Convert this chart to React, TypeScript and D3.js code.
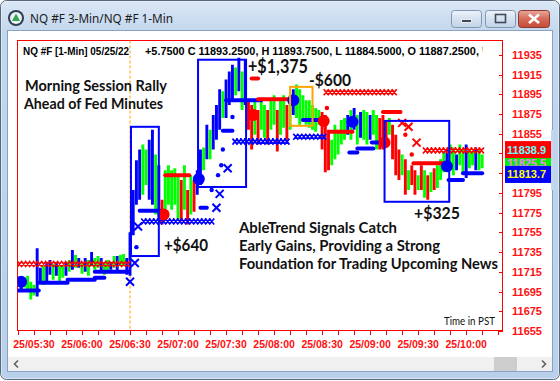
import React from "react";
import * as d3 from "d3";

const WIDTH = 560;
const HEIGHT = 381;

// Time axis: minutes after 25/05 05:30 (PST)
const xLabelMinutes = [0, 30, 60, 90, 120, 150, 180, 210, 240, 270];
const xLabels = ["25/05:30", "25/06:00", "25/06:30", "25/07:00", "25/07:30", "25/08:00", "25/08:30", "25/09:00", "25/09:30", "25/10:00"];
const xTickMinutes = [-10, 0, 10, 20, 30, 40, 50, 60, 70, 80, 90, 100, 110, 120, 130, 140, 150, 160, 170, 180, 190, 200, 210, 220, 230, 240, 250, 260, 270, 280, 290];
const yTicks = [11655, 11675, 11695, 11715, 11735, 11755, 11775, 11795, 11815, 11835, 11855, 11875, 11895, 11915, 11935];
// tick labels hidden behind the last-value boxes
const yHiddenLabels = [11815, 11835];

// Price bars (2-minute sampling from -8 min)
const barStart = -8;
const barStep = 2;
const barHigh = [
  11709, 11707, 11711, 11705, 11702, 11739, 11719, 11721, 11725, 11727,
  11723, 11725, 11722, 11721, 11725, 11727, 11737, 11732, 11729, 11725,
  11729, 11727, 11735, 11729, 11731, 11729, 11725, 11727, 11725, 11731,
  11731, 11732, 11733, 11729, 11755, 11798, 11828, 11839, 11844, 11839,
  11849, 11859, 11834, 11823, 11788, 11818, 11823, 11818, 11820, 11813,
  11808, 11823, 11798, 11813, 11808, 11818, 11839, 11841, 11864, 11859,
  11874, 11884, 11900, 11898, 11910, 11918, 11925, 11922, 11932, 11918,
  11930, 11889, 11884, 11889, 11879, 11889, 11884, 11879, 11889, 11894,
  11879, 11889, 11894, 11884, 11894, 11900, 11905, 11900, 11894, 11889,
  11889, 11884, 11881, 11879, 11877, 11874, 11859, 11849, 11864, 11859,
  11869, 11871, 11874, 11879, 11881, 11874, 11877, 11879, 11877, 11874,
  11879, 11874, 11871, 11874, 11869, 11871, 11864, 11854, 11839, 11834,
  11829, 11818, 11823, 11818, 11813, 11823, 11818, 11813, 11816, 11820,
  11823, 11829, 11837, 11839, 11844, 11841, 11834, 11844, 11839, 11844,
  11839, 11837, 11841, 11839, 11834
];
const barLow = [
  11697, 11699, 11695, 11687, 11691, 11690, 11705, 11702, 11705, 11712,
  11707, 11711, 11705, 11709, 11711, 11715, 11717, 11719, 11719, 11713,
  11715, 11711, 11721, 11717, 11719, 11715, 11712, 11715, 11717, 11719,
  11715, 11721, 11721, 11712, 11711, 11752, 11783, 11788, 11793, 11803,
  11788, 11783, 11773, 11770, 11763, 11773, 11783, 11778, 11783, 11768,
  11766, 11778, 11763, 11773, 11776, 11793, 11803, 11818, 11829, 11829,
  11839, 11849, 11859, 11871, 11871, 11884, 11889, 11894, 11898, 11879,
  11884, 11859, 11839, 11854, 11844, 11859, 11851, 11844, 11859, 11864,
  11837, 11854, 11861, 11849, 11859, 11874, 11871, 11864, 11869, 11864,
  11861, 11859, 11857, 11864, 11839, 11816, 11818, 11823, 11829, 11834,
  11844, 11849, 11854, 11849, 11859, 11844, 11851, 11849, 11844, 11849,
  11854, 11839, 11839, 11839, 11844, 11854, 11829, 11813, 11808, 11813,
  11793, 11798, 11803, 11793, 11798, 11798, 11790, 11788, 11796, 11798,
  11800, 11808, 11816, 11818, 11820, 11813, 11818, 11823, 11816, 11810,
  11820, 11823, 11818, 11818, 11820
];
const barColor = (
  "bggggbbgbb" + "gbggbgbgbg" + "bgbggbggbg" + "bggbbbbbgg" + "bbgbrggggg" +
  "rgrgrbbgbg" + "bbbgbbbgbg" + "brrgrggrgg" + "rggrgbgggg" + "ggggrrrggg" +
  "ggbgbgbggb" + "ggrrrgrrrg" + "rgrrgrgrgr" + "gggbggbggb" + "ggbgg"
).split("");

// Stop rows drawn with X markers
const xRowStart = [-10.5, 67, 124, 162, 181, 243];
const xRowEnd = [60, 113, 161, 184, 228, 283];
const xRowPrice = [11723, 11766, 11847, 11852, 11897, 11838];
const xRowColor = ["r", "b", "b", "b", "r", "r"];

// Trailing stop segments
const trailStart = [-9.5, 3, 21, 38, 38, 66, 104, 118, 120, 168, 197, 202, 211, 259, 268, 82, 136, 140, 185, 218, 237];
const trailEnd = [3, 21, 38, 44, 59, 79, 108, 124, 142, 179, 202, 212, 216, 268, 280, 97, 140, 159, 199, 229, 258];
const trailPrice = [11696, 11704, 11707, 11709, 11715, 11777, 11780, 11858, 11889, 11869, 11836, 11840, 11846, 11808, 11815, 11813, 11911, 11890, 11857, 11877, 11825];
const trailColor = ["b", "b", "b", "b", "b", "b", "b", "b", "b", "b", "b", "b", "b", "b", "b", "r", "r", "r", "r", "r", "r"];

// Big signal circles
const sigMinute = [-8, 81, 103, 137, 162, 181, 199, 219, 258];
const sigPrice = [11705, 11773, 11809, 11874, 11889, 11868, 11867, 11846, 11822];
const sigColor = ["b", "r", "b", "r", "b", "r", "b", "r", "b"];

// Small dots
const dotMinute = [64, 111, 115, 117, 118, 124, 183, 232, 236];
const dotPrice = [11740, 11798, 11813, 11823, 11839, 11872, 11881, 11854, 11834];
const dotColor = ["b", "b", "b", "b", "b", "b", "r", "r", "r"];

// Single X markers
const crossMinute = [60, 63, 65, 114, 116, 121, 230, 234, 239];
const crossPrice = [11705, 11724, 11761, 11780, 11794, 11820, 11866, 11862, 11846];
const crossColor = ["b", "b", "b", "b", "b", "b", "r", "r", "r"];

// Trade boxes
const boxStart = [60.6, 102.5, 160, 219];
const boxEnd = [78, 132.5, 174, 259.4];
const boxHigh = [11862, 11930, 11902.5, 11868];
const boxLow = [11731, 11801, 11863, 11786];
const boxColor = ["#0000ff", "#0000ff", "#ffa500", "#0000ff"];

// Last value labels
const lastValues = [11825.5, 11838.9, 11813.7];
const lastFill = ["#00ee00", "#ff0000", "#0000ff"];
const lastText = ["#ff80ff", "#60ffff", "#ffff00"];

const COLORS: Record<string, string> = { r: "#ff0000", g: "#00ff00", b: "#0000ff" };

const PL = 17.5, PR = 502.5, PT = 40.5, PB = 330.5;

export default function App() {
  const x = d3.scaleLinear().domain([-10.6, 293]).range([17, 503]);
  const y = d3.scaleLinear().domain([11655, 11950]).range([331, 40]);

  const xRowPath = (m0: number, m1: number, p: number) => {
    let d = "";
    const yy = y(p);
    for (let px = x(m0) + 2.5; px <= x(m1) - 2; px += 4) {
      d += `M${px - 2.5},${yy - 3}L${px + 2.5},${yy + 3}M${px - 2.5},${yy + 3}L${px + 2.5},${yy - 3}`;
    }
    return d;
  };

  const sans = "'Liberation Sans', Arial, sans-serif";
  const anno = "Lato, 'Open Sans', sans-serif";

  return (
    <svg width={WIDTH} height={HEIGHT} style={{ position: "absolute", left: 0, top: 0 }}>
      <defs>
        <linearGradient id="frame" x1="0" y1="0" x2="0" y2="1">
          <stop offset="0" stopColor="#dbe7f5" />
          <stop offset="0.08" stopColor="#c3d7ee" />
          <stop offset="1" stopColor="#b9d0ea" />
        </linearGradient>
        <linearGradient id="btn" x1="0" y1="0" x2="0" y2="1">
          <stop offset="0" stopColor="#eef3fa" />
          <stop offset="0.5" stopColor="#d5e1ef" />
          <stop offset="1" stopColor="#c2d3e8" />
        </linearGradient>
        <linearGradient id="btnClose" x1="0" y1="0" x2="0" y2="1">
          <stop offset="0" stopColor="#e9a99b" />
          <stop offset="0.5" stopColor="#d66a58" />
          <stop offset="1" stopColor="#c44a38" />
        </linearGradient>
        <clipPath id="plotClip">
          <rect x={PL} y={PT} width={PR - PL} height={PB - PT} />
        </clipPath>
        <clipPath id="headClip">
          <rect x={PL} y={PT} width={465} height={20} />
        </clipPath>
      </defs>

      {/* window frame */}
      <rect x={0.5} y={0.5} width={559} height={379} rx={6} fill="url(#frame)" stroke="#57687a" />
      <rect x={1.5} y={1.5} width={557} height={377} rx={5} fill="none" stroke="#e8f0fa" strokeOpacity={0.7} />
      {/* icon */}
      <circle cx={16} cy={18} r={8} fill="#2f3f52" />
      <circle cx={16} cy={18} r={6} fill="#eef3f8" />
      <path d="M16,13.5 L20,21 L12,21 Z" fill="#2fa84f" />
      <text x={30} y={23} fontFamily="'Segoe UI', 'Noto Sans', sans-serif" fontSize={12.5} fill="#1b1b1b" textLength={143} lengthAdjust="spacingAndGlyphs">NQ #F 3-Min/NQ #F 1-Min</text>
      {/* buttons */}
      <rect x={451.5} y={10.5} width={30} height={17} rx={3} fill="url(#btn)" stroke="#8296b0" />
      <rect x={461.5} y={19.5} width={10} height={3} fill="#3c4a5c" stroke="#ffffff" strokeWidth={0.8} />
      <rect x={485.5} y={10.5} width={30} height={17} rx={3} fill="url(#btn)" stroke="#8296b0" />
      <rect x={495.5} y={14.5} width={10} height={8} fill="none" stroke="#3c4a5c" strokeWidth={1.6} />
      <rect x={518.5} y={10.5} width={31} height={17} rx={3} fill="url(#btnClose)" stroke="#8a3a30" />
      <path d="M529,14.5 L539,23 M539,14.5 L529,23" stroke="#ffffff" strokeWidth={2.6} />

      {/* client area */}
      <rect x={7.5} y={30.5} width={545} height={341} fill="#ffffff" stroke="#8aa2bf" />
      {/* scrollbar */}
      <rect x={8} y={357} width={544} height={14} fill="#f0f0f0" />
      <rect x={494} y={357} width={23} height={14} fill="#cdcdcd" />
      <path d="M18,360.5 L14.5,364 L18,367.5" fill="none" stroke="#606060" strokeWidth={1.6} />
      <path d="M542,360.5 L545.5,364 L542,367.5" fill="none" stroke="#606060" strokeWidth={1.6} />

      {/* plot area border */}
      <rect x={PL} y={PT} width={PR - PL} height={PB - PT} fill="#ffffff" stroke="#ff0000" />

      {/* y axis ticks and labels */}
      {yTicks.map((t) => (
        <g key={t}>
          <line x1={499} x2={503} y1={Math.round(y(t)) + 0.5} y2={Math.round(y(t)) + 0.5} stroke="#ff0000" />
          {yHiddenLabels.indexOf(t) < 0 && (
            <text x={512} y={y(t) + 4} fontFamily={sans} fontWeight={700} fontSize={11} fill="#ff1010">{t}</text>
          )}
        </g>
      ))}
      {/* x axis ticks and labels */}
      {xTickMinutes.filter((m) => x(m) >= 17 && x(m) <= 503).map((m) => (
        <line key={m} x1={Math.round(x(m)) + 0.5} x2={Math.round(x(m)) + 0.5} y1={331} y2={335} stroke="#ff0000" />
      ))}
      {xLabelMinutes.map((m, i) => (
        <text key={m} x={x(m)} y={348} textAnchor="middle" fontFamily={sans} fontWeight={700} fontSize={10.5} fill="#ff1010">{xLabels[i]}</text>
      ))}

      {/* header */}
      <g clipPath="url(#headClip)" fontFamily={sans} fontWeight={700} fill="#000000">
        <text x={23} y={55} fontSize={10} textLength={106} lengthAdjust="spacingAndGlyphs">NQ #F [1-Min] 05/25/22</text>
        <text x={145} y={55} fontSize={10.5} textLength={340} lengthAdjust="spacingAndGlyphs">{"+5.7500 C 11893.2500, H 11893.7500, L 11884.5000, O 11887.2500, \\"}</text>
      </g>

      {/* session divider */}
      <line x1={x(60)} x2={x(60)} y1={PT} y2={PB} stroke="#ffa500" strokeDasharray="3,2" />

      <g clipPath="url(#plotClip)">
        {/* price bars */}
        {barHigh.map((h, i) => {
          const m = barStart + i * barStep;
          return (
            <line key={i} x1={x(m)} x2={x(m)} y1={y(h)} y2={y(barLow[i])} stroke={COLORS[barColor[i]]} strokeWidth={2.9} />
          );
        })}
        {/* trailing stops */}
        {trailStart.map((m0, i) => (
          <line key={i} x1={x(m0)} x2={x(trailEnd[i])} y1={y(trailPrice[i])} y2={y(trailPrice[i])} stroke={COLORS[trailColor[i]]} strokeWidth={4} strokeLinecap="round" />
        ))}
        {/* X rows */}
        {xRowStart.map((m0, i) => (
          <path key={i} d={xRowPath(m0, xRowEnd[i], xRowPrice[i])} stroke={COLORS[xRowColor[i]]} strokeWidth={1.7} fill="none" />
        ))}
        {/* single crosses */}
        {crossMinute.map((m, i) => {
          const cx = x(m), cy = y(crossPrice[i]);
          return (
            <path key={i} d={`M${cx - 4},${cy - 4}L${cx + 4},${cy + 4}M${cx - 4},${cy + 4}L${cx + 4},${cy - 4}`} stroke={COLORS[crossColor[i]]} strokeWidth={2} />
          );
        })}
        {/* small dots */}
        {dotMinute.map((m, i) => (
          <circle key={i} cx={x(m)} cy={y(dotPrice[i])} r={2.2} fill={COLORS[dotColor[i]]} />
        ))}
        {/* signal circles */}
        {sigMinute.map((m, i) => (
          <circle key={i} cx={x(m)} cy={y(sigPrice[i])} r={6} fill={COLORS[sigColor[i]]} />
        ))}
        {/* trade boxes */}
        {boxStart.map((m0, i) => (
          <rect key={i} x={x(m0)} y={y(boxHigh[i])} width={x(boxEnd[i]) - x(m0)} height={y(boxLow[i]) - y(boxHigh[i])} fill="none" stroke={boxColor[i]} strokeWidth={2} />
        ))}
      </g>

      {/* last value labels */}
      {lastValues.map((v, i) => (
        <g key={i}>
          <rect x={505} y={y(v) - 8.5} width={46} height={17} fill={lastFill[i]} />
          <text x={507} y={y(v) + 4} fontFamily={sans} fontWeight={700} fontSize={11} fill={lastText[i]}>{v.toFixed(1)}</text>
        </g>
      ))}
      <rect x={551} y={130} width={2} height={60} fill="#c3d7ee" />

      {/* annotations */}
      <g fontFamily={anno} fontWeight={700} fill="#111111">
        <text x={25} y={90.5} fontSize={15.5} textLength={142} lengthAdjust="spacingAndGlyphs">Morning Session Rally</text>
        <text x={24} y={108.5} fontSize={15.5} textLength={139} lengthAdjust="spacingAndGlyphs">Ahead of Fed Minutes</text>
        <text x={248} y={73} fontSize={18} textLength={60} lengthAdjust="spacingAndGlyphs">+$1,375</text>
        <text x={309} y={86} fontSize={17.5} textLength={42} lengthAdjust="spacingAndGlyphs">-$600</text>
        <text x={164} y={250.5} fontSize={17.5} textLength={44} lengthAdjust="spacingAndGlyphs">+$640</text>
        <text x={414} y={219} fontSize={17.5} textLength={46} lengthAdjust="spacingAndGlyphs">+$325</text>
        <text x={239} y={233} fontSize={15.5} textLength={158} lengthAdjust="spacingAndGlyphs">AbleTrend Signals Catch</text>
        <text x={239} y={251} fontSize={15.5} textLength={201} lengthAdjust="spacingAndGlyphs">Early Gains, Providing a Strong</text>
        <text x={239} y={269} fontSize={15.5} textLength={259} lengthAdjust="spacingAndGlyphs">Foundation for Trading Upcoming News</text>
        <text x={444} y={325} fontSize={11} fontWeight={400} textLength={51} lengthAdjust="spacingAndGlyphs">Time in PST</text>
      </g>
    </svg>
  );
}
